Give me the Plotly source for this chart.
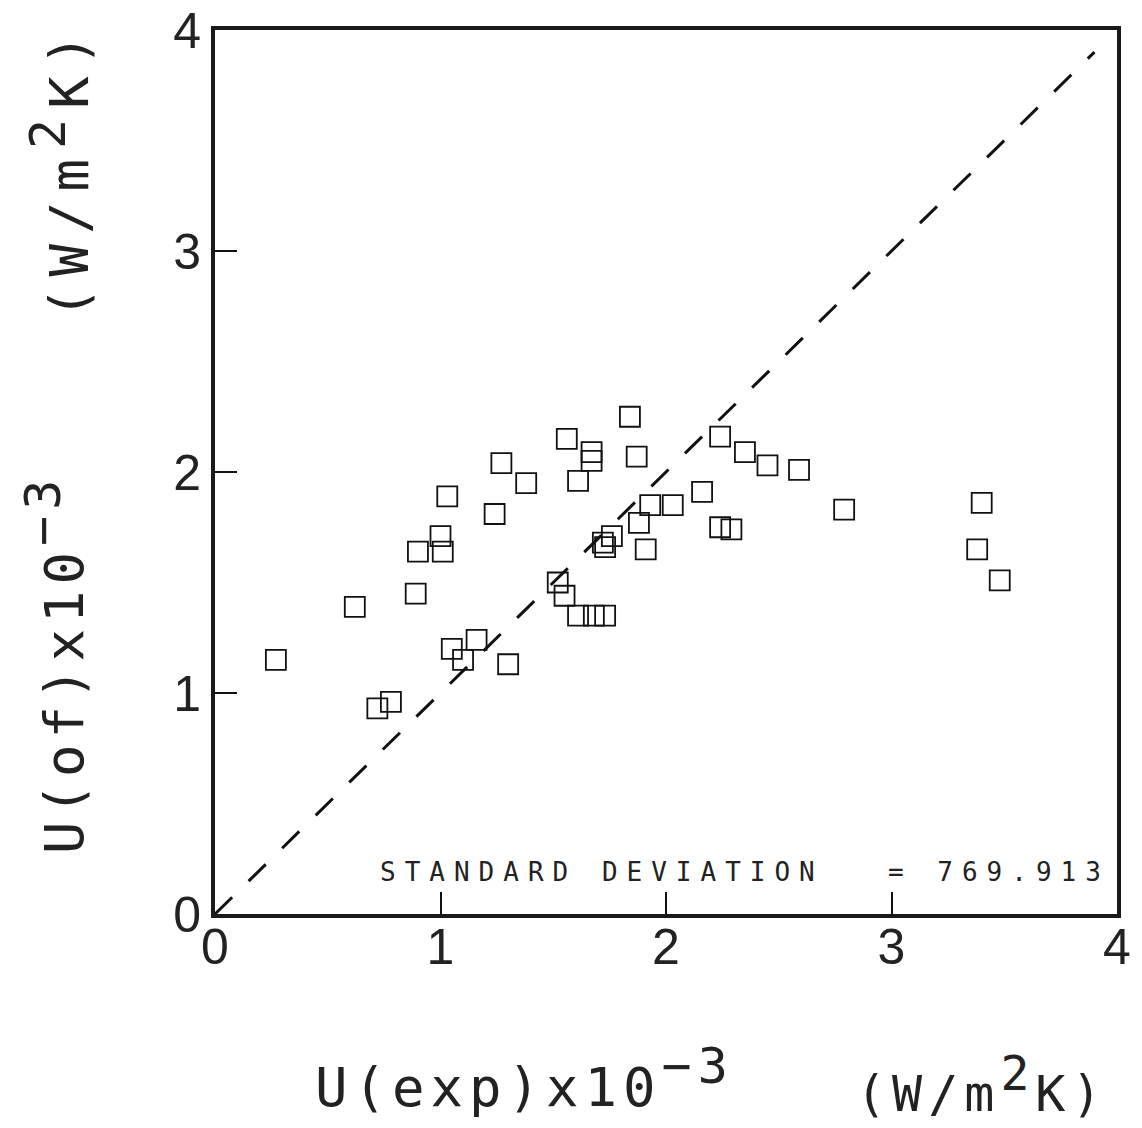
import plotly.graph_objects as go

# ---- data ----
u_exp = [0.27, 0.62, 0.72, 0.78, 0.89, 0.90, 1.00, 1.01, 1.03, 1.05, 1.10, 1.16,
         1.24, 1.27, 1.30, 1.38, 1.52, 1.55, 1.56, 1.61, 1.61, 1.67, 1.67, 1.68,
         1.72, 1.73, 1.73, 1.76, 1.84, 1.87, 1.88, 1.91, 1.93, 2.03, 2.16, 2.24,
         2.24, 2.29, 2.35, 2.45, 2.59, 2.79, 3.38, 3.40, 3.48]
u_of = [1.15, 1.39, 0.93, 0.96, 1.45, 1.64, 1.71, 1.64, 1.89, 1.20, 1.15, 1.24,
        1.81, 2.04, 1.13, 1.95, 1.50, 1.44, 2.15, 1.96, 1.35, 2.09, 2.05, 1.35,
        1.68, 1.66, 1.35, 1.71, 2.25, 2.07, 1.77, 1.65, 1.85, 1.85, 1.91, 2.16,
        1.75, 1.74, 2.09, 2.03, 2.01, 1.83, 1.65, 1.86, 1.51]
ref_x = [0.0, 3.9]
ref_y = [0.0, 3.9]
tick_vals = [0, 1, 2, 3, 4]
tick_text = ["0", "1", "2", "3", "4"]
std_label = "STANDARD DEVIATION"
std_value = "= 769.913"

# plot area wanted at page px 215..1117 x 30..914 (body margin removed below)
PL, PR, PT, PB = 215, 1117, 30, 914
W, H = 1142, 1128
ML, MT = PL, PT
MR = W - PR
MB = H - PB
PW, PH = PR - PL, PB - PT


def px(xp):
    return (xp - PL) / PW


def py(yp):
    return (PB - yp) / PH


fig = go.Figure()
fig.add_trace(go.Scatter(
    x=ref_x, y=ref_y, mode="lines",
    line=dict(color="#111", width=3, dash="24px,23px"),
    hoverinfo="skip", showlegend=False))
fig.add_trace(go.Scatter(
    x=u_exp, y=u_of, mode="markers",
    marker=dict(symbol="square-open", size=20, color="#111",
                line=dict(width=1.8, color="#111")),
    showlegend=False))

axis_common = dict(
    range=[0, 4], tickvals=tick_vals, ticktext=tick_text,
    ticks="inside", ticklen=22, tickwidth=2.2, tickcolor="#111",
    showline=True, linewidth=4, linecolor="#1a1a1a", mirror=True,
    showgrid=False, zeroline=False, ticklabeloverflow="allow",
    automargin=False,
    tickfont=dict(family="Liberation Sans", size=50, color="#222"),
)
fig.update_xaxes(**axis_common, ticklabelstandoff=-14)
fig.update_yaxes(**axis_common)

mono = "DejaVu Sans Mono"
ann = []
ann.append(dict(
    text='<span style="letter-spacing:9px">' + std_label + '</span>',
    x=px(602), y=py(872), xref="paper", yref="paper",
    xanchor="center", yanchor="middle", showarrow=False,
    font=dict(family=mono, size=26, color="#222")))
ann.append(dict(
    text='<span style="letter-spacing:9px">' + std_value + '</span>',
    x=px(999), y=py(872), xref="paper", yref="paper",
    xanchor="center", yanchor="middle", showarrow=False,
    font=dict(family=mono, size=26, color="#222")))
# x title
ann.append(dict(
    text='<span style="letter-spacing:6px">U(exp)x10<sup><span style="font-size:50px">\u22123</span></sup></span>',
    x=px(524), y=py(1078), xref="paper", yref="paper",
    xanchor="center", yanchor="middle", showarrow=False,
    font=dict(family=mono, size=54, color="#222")))
ann.append(dict(
    text='<span style="letter-spacing:6px">(W/m<sup><span style="font-size:48px">2</span></sup>K)</span>',
    x=px(982), y=py(1084), xref="paper", yref="paper",
    xanchor="center", yanchor="middle", showarrow=False,
    font=dict(family=mono, size=50, color="#222")))
# y title
ann.append(dict(
    text='<span style="letter-spacing:6px">U(of)x10<sup><span style="font-size:50px">\u22123</span></sup></span>',
    x=px(55), y=py(664), xref="paper", yref="paper",
    xanchor="center", yanchor="middle", showarrow=False, textangle=-90,
    font=dict(family=mono, size=54, color="#222")))
ann.append(dict(
    text='<span style="letter-spacing:10px">(W/m<sup><span style="font-size:50px">2</span></sup>K)</span>',
    x=px(60), y=py(172), xref="paper", yref="paper",
    xanchor="center", yanchor="middle", showarrow=False, textangle=-90,
    font=dict(family=mono, size=54, color="#222")))

fig.update_layout(
    width=W, height=H, autosize=False,
    margin=dict(l=ML, r=MR, t=MT, b=MB, autoexpand=False),
    paper_bgcolor="white", plot_bgcolor="white",
    annotations=ann,
)

fig.write_html("out.html", config={"responsive": False, "displayModeBar": False},
               post_script="document.body.style.margin='0px';")
